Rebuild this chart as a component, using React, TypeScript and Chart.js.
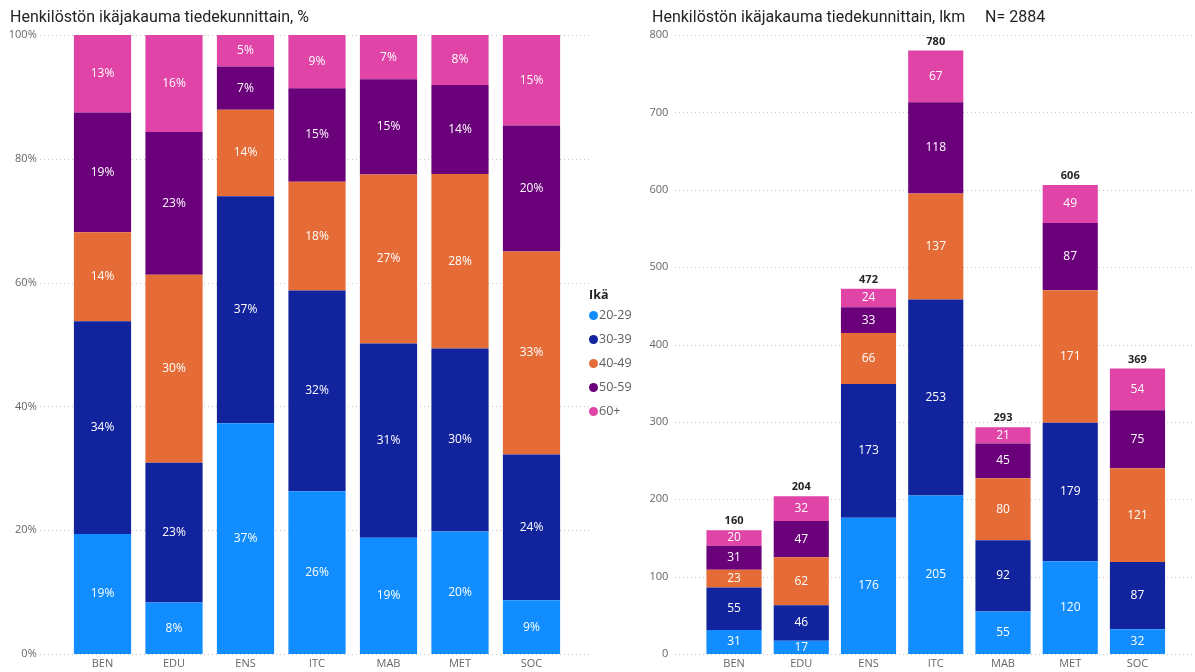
import React, { useEffect, useRef } from 'react';
import { Chart, registerables } from 'chart.js';

Chart.register(...registerables);

const categories = ['BEN', 'EDU', 'ENS', 'ITC', 'MAB', 'MET', 'SOC'];
const ageGroups = ['20-29', '30-39', '40-49', '50-59', '60+'];
const groupColors = ['#118DFF', '#12239E', '#E66C37', '#6B007B', '#E044A7'];

const age20to29 = [31, 17, 176, 205, 55, 120, 32];
const age30to39 = [55, 46, 173, 253, 92, 179, 87];
const age40to49 = [23, 62, 66, 137, 80, 171, 121];
const age50to59 = [31, 47, 33, 118, 45, 87, 75];
const age60plus = [20, 32, 24, 67, 21, 49, 54];

const totalN = 2884;
const pctTickStep = 20;
const countTickStep = 100;

const seriesCounts = [age20to29, age30to39, age40to49, age50to59, age60plus];
const totals = categories.map((_, i) => seriesCounts.reduce((s, arr) => s + arr[i], 0));
const seriesPct = seriesCounts.map((arr) => arr.map((v, i) => (v / totals[i]) * 100));

const FONT = "'Open Sans', 'Noto Sans', sans-serif";
const TICK_COLOR = '#666666';

const dotGridPlugin = {
  id: 'dotGrid',
  beforeDatasetsDraw(chart: any, _args: any, opts: any) {
    const y = chart.scales.y;
    const ctx = chart.ctx;
    ctx.save();
    ctx.strokeStyle = '#C8C6C4';
    ctx.lineWidth = 1;
    ctx.setLineDash([1, 3]);
    y.ticks.forEach((t: any) => {
      const py = Math.round(y.getPixelForValue(t.value)) + 0.5;
      ctx.beginPath();
      ctx.moveTo(opts.left, py);
      ctx.lineTo(opts.right, py);
      ctx.stroke();
    });
    ctx.restore();
  },
};

const barLabelPlugin = {
  id: 'barLabels',
  afterDatasetsDraw(chart: any, _args: any, opts: any) {
    const ctx = chart.ctx;
    ctx.save();
    ctx.font = `12px ${FONT}`;
    ctx.fillStyle = '#FFFFFF';
    ctx.textAlign = 'center';
    ctx.textBaseline = 'middle';
    chart.data.datasets.forEach((ds: any, di: number) => {
      const meta = chart.getDatasetMeta(di);
      meta.data.forEach((el: any, i: number) => {
        const v = ds.data[i];
        const txt = opts.percent ? `${Math.round(v)}%` : `${v}`;
        ctx.fillText(txt, el.x, (el.y + el.base) / 2);
      });
    });
    if (opts.totals) {
      const last = chart.getDatasetMeta(chart.data.datasets.length - 1);
      ctx.font = `bold 11px ${FONT}`;
      ctx.fillStyle = '#252423';
      ctx.textBaseline = 'middle';
      last.data.forEach((el: any, i: number) => {
        ctx.fillText(`${opts.totals[i]}`, el.x, el.y - 9);
      });
    }
    ctx.restore();
  },
};

function makeConfig(
  series: number[][],
  yMax: number,
  step: number,
  percent: boolean,
  axisWidth: number,
  padRight: number,
  barPct: number,
  grid: { left: number; right: number },
  showTotals: boolean
): any {
  return {
    type: 'bar',
    data: {
      labels: categories,
      datasets: series.map((arr, k) => ({
        label: ageGroups[k],
        data: arr,
        backgroundColor: groupColors[k],
        borderWidth: 0,
        barPercentage: barPct,
        categoryPercentage: 1,
      })),
    },
    options: {
      animation: false,
      responsive: false,
      maintainAspectRatio: false,
      layout: { padding: { top: 35, right: padRight, bottom: 0, left: 0 } },
      plugins: {
        legend: { display: false },
        tooltip: { enabled: false },
        dotGrid: grid,
        barLabels: { percent, totals: showTotals ? totals : null },
      },
      scales: {
        x: {
          stacked: true,
          grid: { display: false, drawTicks: false },
          border: { display: false },
          ticks: { color: TICK_COLOR, font: { family: FONT, size: 11 }, padding: 3 },
          afterFit(scale: any) {
            scale.height = 18;
          },
        },
        y: {
          stacked: true,
          min: 0,
          max: yMax,
          grid: { display: false, drawTicks: false },
          border: { display: false },
          ticks: {
            stepSize: step,
            color: TICK_COLOR,
            font: { family: FONT, size: 11 },
            padding: percent ? 30 : 32,
            callback: (v: any) => (percent ? `${v}%` : `${v}`),
          },
          afterFit(scale: any) {
            scale.width = axisWidth;
            scale.paddingTop = 0;
            scale.paddingBottom = 0;
          },
        },
      },
    },
    plugins: [dotGridPlugin, barLabelPlugin],
  };
}

export default function App() {
  const leftRef = useRef<HTMLCanvasElement>(null);
  const rightRef = useRef<HTMLCanvasElement>(null);

  useEffect(() => {
    const c1 = new Chart(
      leftRef.current as HTMLCanvasElement,
      makeConfig(seriesPct, 100, pctTickStep, true, 66.75, 32.75, 0.8, { left: 40, right: 592 }, false)
    );
    const c2 = new Chart(
      rightRef.current as HTMLCanvasElement,
      makeConfig(seriesCounts, 800, countTickStep, false, 100.4, 23.9, 0.82, { left: 75, right: 595 }, true)
    );
    return () => {
      c1.destroy();
      c2.destroy();
    };
  }, []);

  const titleStyle: React.CSSProperties = {
    position: 'absolute',
    top: 7,
    fontFamily: "Roboto, 'Noto Sans', sans-serif",
    fontSize: 16,
    color: '#252423',
    whiteSpace: 'nowrap',
    lineHeight: '20px',
  };

  return (
    <div style={{ position: 'absolute', left: 0, top: 0, width: 1195, height: 672, background: '#fff', overflow: 'hidden' }}>
      <canvas ref={leftRef} width={600} height={672} style={{ position: 'absolute', left: 0, top: 0 }} />
      <canvas ref={rightRef} width={595} height={672} style={{ position: 'absolute', left: 600, top: 0 }} />
      <div style={{ ...titleStyle, left: 10 }}>Henkilöstön ikäjakauma tiedekunnittain, %</div>
      <div style={{ ...titleStyle, left: 652 }}>Henkilöstön ikäjakauma tiedekunnittain, lkm</div>
      <div style={{ ...titleStyle, left: 985 }}>N= {totalN}</div>
      <div style={{ position: 'absolute', left: 589, top: 286, fontFamily: FONT, fontSize: 12.5, color: '#605E5C' }}>
        <div style={{ fontWeight: 'bold', color: '#252423', height: 17, lineHeight: '18px' }}>Ikä</div>
        {ageGroups.map((g, k) => (
          <div key={g} style={{ display: 'flex', alignItems: 'center', height: 24, lineHeight: '24px' }}>
            <span
              style={{
                display: 'inline-block',
                width: 9,
                height: 9,
                borderRadius: '50%',
                background: groupColors[k],
                marginRight: 1,
              }}
            />
            <span>{g}</span>
          </div>
        ))}
      </div>
    </div>
  );
}
